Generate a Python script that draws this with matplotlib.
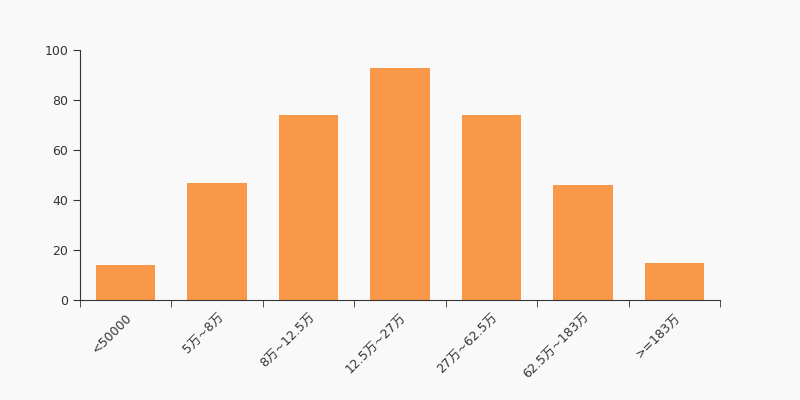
import matplotlib
import matplotlib.pyplot as plt
import numpy as np

matplotlib.use("Agg")
plt.rcParams["font.family"] = ["DejaVu Sans", "Noto Sans CJK SC"]

categories = ["<50000", "5万~8万", "8万~12.5万", "12.5万~27万",
              "27万~62.5万", "62.5万~183万", ">=183万"]
values = [14, 47, 74, 93, 74, 46, 15]

BG = "#f9f9f9"
BAR = "#f99848"
TEXT = "#333333"

fig = plt.figure(figsize=(8, 4), dpi=100, facecolor=BG)
ax = fig.add_axes([0.1, 0.25, 0.8, 0.625], facecolor=BG)

x = np.arange(len(categories))
ax.bar(x, values, width=0.65, color=BAR)

ax.set_xlim(-0.5, len(categories) - 0.5)
ax.set_ylim(0, 100)
ax.set_yticks(range(0, 101, 20))

ax.set_xticks(x)
ax.set_xticklabels(categories, rotation=45, ha="right", va="top",
                   rotation_mode="anchor", fontsize=9, color=TEXT)
ax.tick_params(axis="x", which="major", length=0, pad=8)
ax.set_xticks(np.arange(-0.5, len(categories)), minor=True)
ax.tick_params(axis="x", which="minor", length=5, color=TEXT)
ax.tick_params(axis="y", length=5, labelsize=9, labelcolor=TEXT, color=TEXT)

for side in ("top", "right"):
    ax.spines[side].set_visible(False)
for side in ("left", "bottom"):
    ax.spines[side].set_color(TEXT)

fig.savefig("out.png", dpi=100, facecolor=BG)
